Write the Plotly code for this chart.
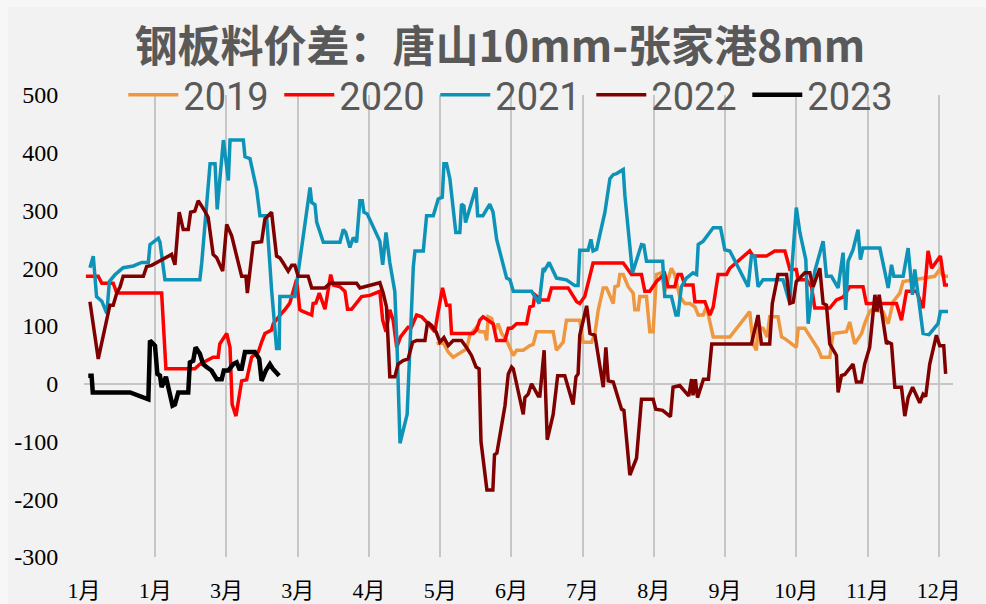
import plotly.graph_objects as go

# x = day offset from 1 Jan (Excel date axis, major unit 30 days)
tick_days = [0, 30, 60, 90, 120, 150, 180, 210, 240, 270, 300, 330, 360]
tick_text = ["1月", "1月", "3月", "3月", "4月", "5月", "6月", "7月",
             "8月", "9月", "10月", "11月", "12月"]
y_ticks = [-300, -200, -100, 0, 100, 200, 300, 400, 500]
y_text = ["-300", "-200", "-100", "0", "100", "200", "300", "400", "500"]

days_2019 = [148.5, 151.2, 153.4, 155.5, 159, 161.1, 162.5, 165.3, 166.7, 168.8,
             169.6, 170.2, 171.7, 173.1, 174.4, 175.9, 178, 179.7, 180.8, 182.2,
             185, 187.8, 189.2, 190.6, 197.6, 199, 201.8, 203.2, 208.8, 210.2,
             213.8, 215.2, 216.6, 218.7, 220.1, 222.9, 223.6, 225, 225.7, 227.1,
             229.2, 231.3, 232, 233.4, 234.1, 236.9, 238.3, 239.7, 241.1, 243.2,
             244.6, 247.4, 248.8, 250.9, 253.1, 255.2, 257.3, 258.7, 260.8, 262.2,
             265, 272, 280.4, 281.8, 283.2, 283.9, 286, 287.7, 288.8, 292.3,
             293.8, 295.2, 297.3, 300, 300.8, 303.6, 307.8, 309.2, 310.6, 314.1,
             315.5, 321.1, 322.5, 324.6, 327.5, 328.8, 330.9, 331.7, 336.5, 338.7,
             340.8, 343.6, 345, 358.3, 360.4, 361.8, 363.9]
vals_2019 = [69, 72, 55, 46, 55, 60, 84, 98, 90, 90,
             75, 116, 113, 93, 104, 87, 75, 58, 49, 58,
             58, 66, 68, 90, 90, 58, 72, 110, 110, 72,
             72, 87, 128, 166, 166, 139, 168, 170, 189, 189,
             168, 157, 128, 128, 151, 151, 90, 90, 189, 192,
             160, 200, 189, 151, 139, 139, 133, 119, 119, 133,
             81, 81, 125, 69, 58, 98, 96, 81, 116, 116,
             81, 78, 72, 63, 96, 96, 69, 60, 46, 46,
             87, 90, 107, 69, 87, 104, 125, 128, 125, 104,
             142, 157, 177, 186, 198, 186, 186]

days_2020 = [0.8, 6, 7.5, 12.3, 13.8, 32.7, 34.5, 46.7, 48.8, 51.7,
             54.4, 56.5, 57.2, 60.1, 61.5, 62.4, 64, 66.4, 68.5, 70.6,
             73.4, 74.8, 76.2, 79, 79.7, 83.2, 84.6, 86.7, 88.1, 89.5,
             90.9, 91.7, 95.9, 96.5, 97.7, 99.1, 101.5, 103.9, 105, 107.8,
             109.9, 111, 112.7, 114.8, 116.9, 120.4, 123.9, 124.6, 125.8, 127.2,
             128.8, 130.2, 131.7, 133.3, 136.5, 137.9, 140.1, 142.2, 144.3, 146.4,
             147.8, 148.8, 151, 152.7, 154.1, 154.8, 163.9, 165.3, 166.7, 168.1,
             172.3, 173.8, 177.3, 178.7, 180.1, 182.2, 186.4, 187.8, 189.2, 189.9,
             192.7, 195.5, 196.9, 203.9, 207.5, 208.8, 210.9, 214.4, 227.1, 230.6,
             234.8, 236.2, 238.3, 241.1, 243.2, 244.6, 246, 248.8, 250.2, 251.6,
             253.1, 256.5, 257.3, 261.5, 263.6, 265, 267.1, 270.6, 272, 280.4,
             281.8, 287.4, 290.9, 295.2, 297.3, 300, 300.8, 304.3, 306.4, 307.8,
             314.1, 316.9, 319.7, 322.5, 328.1, 329.5, 342.2, 344.3, 346.4, 350.6,
             353.4, 355.5, 357, 360.7, 362.5, 363.9]
vals_2020 = [186, 186, 174, 174, 157, 157, 26, 26, 34, 40,
             46, 46, 69, 87, 63, -36, -56, 5, 7, 46,
             55, 72, 87, 93, 104, 122, 128, 140, 163, 180,
             128, 126, 119, 139, 140, 157, 129, 189, 171, 168,
             160, 129, 129, 139, 151, 153, 160, 160, 110, 90,
             128, 110, 63, 81, 98, 98, 119, 116, 107, 98,
             90, 116, 166, 136, 136, 87, 87, 93, 110, 116,
             104, 75, 75, 96, 96, 104, 104, 133, 135, 154,
             145, 145, 166, 166, 142, 139, 151, 209, 209, 189,
             189, 160, 160, 177, 186, 190, 168, 168, 189, 189,
             171, 171, 142, 142, 119, 133, 189, 189, 200, 230,
             221, 221, 230, 230, 198, 198, 180, 180, 168, 131,
             131, 145, 150, 168, 168, 139, 139, 110, 160, 160,
             131, 230, 200, 221, 171, 171]

days_2021 = [2.5, 3.9, 5.3, 7.5, 9.6, 10.7, 13.1, 16.5, 20.8, 24.3,
             27.1, 27.8, 31.3, 32, 34.1, 48.8, 49.6, 53.1, 55.2, 56.1,
             58.7, 60.8, 61.5, 67.1, 67.8, 69.9, 72.7, 74.1, 76.9, 79,
             81.1, 82.2, 82.5, 88.8, 95.2, 95.9, 97.3, 98, 100.8, 107.8,
             109.2, 110.2, 112, 113.4, 114.8, 116.2, 117.2, 117.9, 119.3, 124.6,
             125.8, 127.2, 128.8, 130.9, 131.9, 133.1, 136.1, 137.3, 138.7, 139.4,
             142.9, 144.3, 147.1, 149.2, 150.9, 151.6, 152.7, 154.1, 156.6, 158.3,
             159, 160, 160.7, 163.2, 165.1, 165.8, 168, 170.9, 172.3, 173.8,
             175.9, 178, 179.4, 180.8, 188.5, 191.7, 193.4, 194.1, 195.9, 199,
             203.2, 206.7, 208.1, 208.8, 212.3, 213.5, 214.4, 215.9, 219.4, 221.5,
             222.9, 224.3, 227.1, 227.8, 231, 234.8, 235.8, 236.9, 243.7, 244.6,
             247.4, 249.3, 250.2, 251.6, 253.7, 256.5, 258, 258.7, 260.8, 265,
             268.1, 269.9, 272, 279.7, 281.1, 282.5, 283.9, 286, 294.4, 297.3,
             298, 300, 301.5, 304, 305, 307.8, 311.3, 312.7, 314.8, 317.6,
             319.7, 320.8, 321.8, 323.9, 326, 327, 328.1, 335.2, 338.7, 340.1,
             341.1, 345, 347.1, 348.9, 349.9, 353.4, 355.9, 359.7, 360.7, 363.9]
vals_2021 = [201, 221, 151, 143, 122, 177, 189, 201, 204, 210,
             210, 241, 252, 245, 180, 180, 210, 381, 381, 302,
             422, 352, 422, 422, 393, 390, 337, 291, 291, 163,
             61, 61, 151, 151, 340, 314, 310, 280, 245, 245,
             267, 262, 236, 253, 245, 317, 317, 297, 294, 247,
             206, 262, 210, 160, 58, -103, -53, 81, 203, 230,
             230, 291, 291, 320, 323, 381, 381, 355, 262, 262,
             311, 308, 279, 314, 340, 291, 291, 311, 297, 250,
             215, 183, 180, 160, 160, 139, 200, 197, 210, 183,
             180, 170, 170, 231, 231, 250, 230, 233, 297, 355,
             362, 364, 371, 326, 192, 241, 240, 212, 212, 151,
             151, 119, 119, 168, 183, 192, 189, 241, 247, 270,
             270, 232, 230, 168, 221, 221, 168, 180, 180, 139,
             192, 305, 262, 215, 104, 195, 247, 186, 186, 166,
             227, 128, 212, 232, 267, 215, 235, 235, 166, 206,
             186, 186, 235, 154, 198, 87, 85, 104, 125, 125]

days_2022 = [2.5, 3.9, 6, 10.9, 12.3, 13.8, 15.2, 16.5, 25, 26.4,
             28.5, 36.9, 38.3, 40.1, 41.8, 43.9, 44.9, 46.7, 48.1, 50.9,
             52.3, 54.4, 55.9, 58.4, 60.1, 62.2, 64.3, 66.4, 68.2, 68.8,
             71.3, 74.8, 76.2, 79, 81.1, 82.5, 83.9, 86, 87.5, 88.8,
             90.2, 94.4, 95.9, 101.5, 103.6, 114.8, 116.2, 118.3, 124.6, 126,
             127.4, 128.8, 130.9, 132.3, 134.4, 136.5, 138.4, 140.1, 143.6, 144.7,
             146.4, 148.3, 149.9, 151.6, 153.4, 155.5, 159, 161.1, 163.2, 165.1,
             166.4, 167.2, 169.7, 172.2, 172.9, 173.9, 177.3, 178.7, 180.1, 180.8,
             185, 185.7, 187.1, 188.5, 191.3, 192, 193.8, 195.1, 197.6, 199.5,
             202.5, 206, 207.2, 208.1, 208.8, 211.7, 213.1, 215.2, 218.7, 219.8,
             220.8, 222.9, 226.4, 227.4, 229.9, 232.7, 234.8, 239.7, 240.8, 243.7,
             247, 248.1, 250.9, 254.7, 255.9, 256.5, 257.5, 258.4, 260.9, 263,
             264.4, 281.1, 283.9, 285.3, 288.8, 289.9, 292.3, 295.9, 297.3, 298.7,
             300, 303.6, 305.7, 307.1, 309.9, 311.3, 312.7, 314.1, 316.9, 317.6,
             319, 320.4, 323.9, 325.3, 327.5, 328.8, 330.9, 333.1, 334, 334.9,
             336.5, 338, 338.7, 340.1, 341.5, 344.3, 345.7, 347.1, 349, 352,
             353.4, 354.5, 356.2, 359, 360.4, 362.1, 362.9]
vals_2022 = [142, 104, 43, 136, 136, 157, 168, 186, 186, 203,
             205, 224, 206, 297, 267, 267, 297, 299, 317, 299,
             288, 224, 218, 195, 276, 256, 221, 186, 186, 157,
             244, 246, 285, 297, 221, 218, 209, 195, 205, 205,
             186, 186, 166, 166, 174, 174, 166, 168, 175, 157,
             133, 12, 12, 34, 40, 43, 72, 75, 75, 107,
             101, 90, 72, 80, 66, 75, 75, 63, 49, 29,
             26, -100, -184, -184, -123, -120, -38, 17, 29, 26,
             -53, -24, -18, 0, -21, -21, 58, -97, -53, 14,
             14, -36, 12, 17, 84, 135, 87, 84, -6, 63,
             5, 3, -44, -46, -158, -129, -27, -27, -44, -46,
             -57, -6, -3, -21, 8, -20, 8, -24, 8, 8,
             69, 69, 119, 69, 69, 139, 189, 189, 139, 141,
             177, 192, 192, 168, 200, 139, 136, 69, 49, -15,
             14, 16, 34, 3, 3, 34, 63, 154, 125, 154,
             110, 69, 72, 69, -6, -6, -56, -24, -6, -33,
             -18, -22, 34, 84, 66, 66, 17]

days_2023 = [1.8, 3.2, 3.7, 19.4, 27.1, 27.8, 29.9, 30.9, 32, 32.7,
             34.5, 36.2, 37.3, 38.3, 39.7, 43.9, 44.6, 46, 47, 48.8,
             50.2, 51.6, 53.7, 55.9, 58, 58.9, 60.8, 62.9, 64.3, 65.4,
             66.4, 67.8, 72, 73.8, 74.8, 76.6, 78.3, 79.5, 82.2]
vals_2023 = [14, 14, -15, -15, -27, 75, 66, 17, 14, -6,
             12, -21, -38, -36, -15, -15, 37, 40, 63, 52,
             34, 29, 23, 8, 8, 23, 23, 34, 37, 26,
             26, 55, 55, 43, 5, 23, 34, 26, 14]

series = [
    ("2019", days_2019, vals_2019, "#EE973F", 3.5),
    ("2020", days_2020, vals_2020, "#FF0000", 3.5),
    ("2021", days_2021, vals_2021, "#0E93B8", 3.5),
    ("2022", days_2022, vals_2022, "#800000", 3.5),
    ("2023", days_2023, vals_2023, "#000000", 4.5),
]

fig = go.Figure()
for name, xs, ys, color, width in series:
    fig.add_trace(go.Scatter(
        x=xs, y=ys, name=name, mode="lines",
        line=dict(color=color, width=width),
    ))

# chart area sits inside a slightly lighter outer frame
fig.add_shape(
    type="rect", xref="paper", yref="paper",
    x0=-0.0875, x1=1.05, y0=-0.12, y1=1.19,
    fillcolor="#f2f2f2", line=dict(width=0), layer="below",
)

fig.update_layout(
    width=986,
    height=604,
    paper_bgcolor="#f7f7f7",
    plot_bgcolor="#f2f2f2",
    margin=dict(l=84, r=33, t=95, b=47, autoexpand=False),
    title=dict(
        text="<b>钢板料价差：唐山10mm-张家港8mm</b>",
        font=dict(family="Noto Sans CJK SC", size=43, color="#595959"),
        xref="container", x=0.507, xanchor="center",
        yref="container", y=0.922, yanchor="middle",
    ),
    legend=dict(
        orientation="h",
        x=0.494, xanchor="center",
        y=1.0, yanchor="middle",
        bgcolor="rgba(0,0,0,0)",
        font=dict(family="Roboto", size=38, color="#595959"),
        entrywidth=91,
        entrywidthmode="pixels",
        itemwidth=50,
    ),
    xaxis=dict(
        range=[0, 366],
        tickvals=tick_days,
        ticktext=tick_text,
        showgrid=True,
        gridcolor="#c6c6c6",
        gridwidth=1.5,
        zeroline=False,
        showline=False,
        automargin=False,
        ticks="outside",
        ticklen=14,
        tickcolor="rgba(0,0,0,0)",
        tickfont=dict(family="Liberation Serif, Noto Sans CJK SC", size=22, color="#000000"),
    ),
    yaxis=dict(
        range=[-300, 500],
        tickvals=y_ticks,
        ticktext=y_text,
        showgrid=False,
        zeroline=True,
        zerolinecolor="#c6c6c6",
        zerolinewidth=2,
        showline=False,
        automargin=False,
        ticks="outside",
        ticklen=20,
        tickcolor="rgba(0,0,0,0)",
        tickfont=dict(family="Liberation Serif", size=24, color="#000000"),
    ),
)

# drop the default 8px body margin so the figure sits at the window origin
fig.write_html("out.html", config={"displayModeBar": False},
               post_script="document.body.style.margin='0px';")
